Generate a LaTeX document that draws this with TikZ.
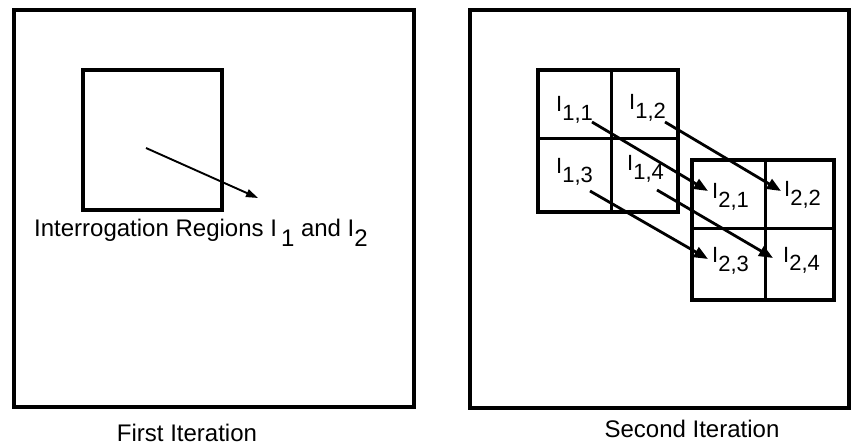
\documentclass[tikz,border=0pt]{standalone}
\usepackage{fontspec}
\setmainfont{Liberation Sans}
\usetikzlibrary{arrows.meta}
\newcommand{\lowsub}[1]{\raisebox{-0.4em}{#1}}
\begin{document}
\begin{tikzpicture}[x=1pt,y=-1pt,
  frame/.style={draw=black,line width=3.6pt},
  gridbox/.style={draw=black,line width=4.4pt},
  gridline/.style={draw=black,line width=3pt},
  lbl/.style={anchor=base west,inner sep=0pt,font=\fontsize{22}{24}\selectfont},
  mainlbl/.style={anchor=base,inner sep=0pt,font=\fontsize{24}{27}\selectfont},
  arr/.style={-{Triangle[length=14pt,width=11pt]},line width=2.8pt},
  thinarr/.style={-{Triangle[length=12pt,width=8pt]},line width=1.9pt}]
\useasboundingbox (0,0) rectangle (859,446);
% left panel
\draw[frame] (14,10) rectangle (414,407);
\draw[frame] (83,70) rectangle (222,210);
\coordinate (a0) at (146,148);
\coordinate (a1) at (258,198);
\draw[thinarr] (a0) -- (a1);
\node[anchor=base west,inner sep=0pt,font=\fontsize{24}{27}\selectfont] (t1) at (34,237)
  {Interrogation Regions I\,\lowsub{1} and I\lowsub{2}};
\node[mainlbl] (cap1) at (187,441) {First Iteration};
% right panel
\draw[frame] (470,10) rectangle (849,408);
% grid 1
\draw[gridbox] (538,70) rectangle (678,212);
\draw[gridline] (611,70) -- (611,212);
\draw[gridline] (538,139) -- (678,139);
% grid 2
\draw[gridbox] (692,160) rectangle (834,300);
\draw[gridline] (765,160) -- (765,300);
\draw[gridline] (692,229) -- (834,229);
% labels
\node[lbl] (i11) at (556,112) {I\lowsub{1,1}};
\node[lbl] (i12) at (629,110) {I\lowsub{1,2}};
\node[lbl] (i13) at (556,174) {I\lowsub{1,3}};
\node[lbl] (i14) at (627,171) {I\lowsub{1,4}};
\node[lbl] (i21) at (712,199) {I\lowsub{2,1}};
\node[lbl] (i22) at (784,197) {I\lowsub{2,2}};
\node[lbl] (i23) at (712,263) {I\lowsub{2,3}};
\node[lbl] (i24) at (783,262) {I\lowsub{2,4}};
% arrows
\coordinate (s11) at (592,122); \coordinate (e21) at (708,191);
\coordinate (s12) at (665,122); \coordinate (e22) at (781,191);
\coordinate (s13) at (590,191); \coordinate (e23) at (708,259);
\coordinate (s14) at (657,190); \coordinate (e24) at (773,258);
\draw[arr] (s11) -- (e21);
\draw[arr] (s12) -- (e22);
\draw[arr] (s13) -- (e23);
\draw[arr] (s14) -- (e24);
\node[mainlbl] (cap2) at (692,437) {Second Iteration};
\end{tikzpicture}
\end{document}
